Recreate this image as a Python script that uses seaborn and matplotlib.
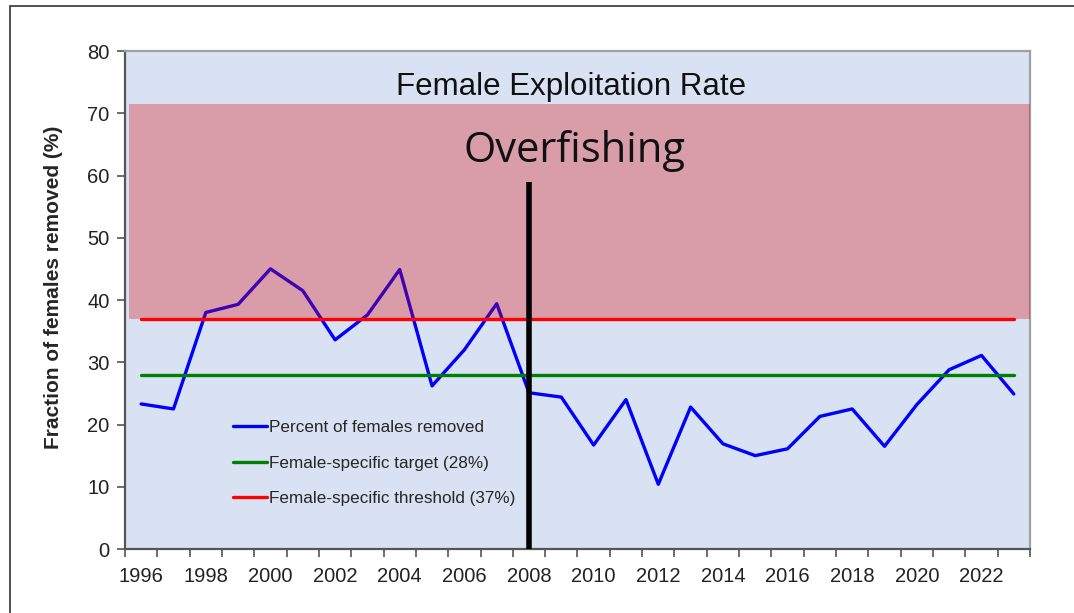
import numpy as np
import matplotlib.pyplot as plt
import seaborn as sns
import pandas as pd
from matplotlib.patches import Rectangle

years = list(range(1996, 2024))
pct_removed = [23.3, 22.5, 38.0, 39.3, 45.0, 41.5, 33.6, 37.6, 44.9, 26.2,
               32.0, 39.4, 25.1, 24.4, 16.7, 24.0, 10.4, 22.8, 16.9, 15.0,
               16.1, 21.3, 22.5, 16.5, 23.2, 28.8, 31.1, 24.9]
target = 28
threshold = 37
overfishing_top = 71.5
closure_year = 2008
closure_top = 59

sns.set_style("white")
plt.rcParams['font.family'] = ['Liberation Sans', 'DejaVu Sans']

df = pd.DataFrame({"year": years, "pct": pct_removed})

fig = plt.figure(figsize=(10.74, 6.13), dpi=100)
ax = fig.add_axes([0.1164, 0.1044, 0.8426, 0.8124])
ax.set_facecolor("#D9E2F3")

# outer frame (only top/left edges visible in the original)
fig.patches.append(Rectangle((10 / 1074, -0.1), 1.2, 1 - 6 / 613 + 0.1,
                             transform=fig.transFigure, fill=False,
                             edgecolor="#333333", linewidth=1.2))

sns.lineplot(data=df, x="year", y="pct", color="#0000FF", linewidth=2.4,
             ax=ax, zorder=2, label="Percent of females removed")

# overfishing zone drawn semi-transparent over the series
ax.axhspan(threshold, overfishing_top, xmin=0.004, xmax=1, color="#D90000",
           alpha=0.3, linewidth=0, zorder=3)

ax.plot(years, [target] * len(years), color="#008000", linewidth=2.4,
        zorder=4, label="Female-specific target (28%)")
ax.plot(years, [threshold] * len(years), color="#FF0000", linewidth=2.4,
        zorder=4, label="Female-specific threshold (37%)")

ax.vlines(closure_year, 0, closure_top, color="black", linewidth=4, zorder=5)

ax.set_xlim(years[0] - 0.5, years[-1] + 0.5)
ax.set_ylim(0, 80)
ax.set_yticks(range(0, 81, 10))
ax.set_xticks(years[::2])
ax.set_xticklabels([str(y) for y in years[::2]])
ax.set_xticks(np.arange(years[0] - 0.5, years[-1] + 1.0, 1.0), minor=True)
ax.tick_params(axis="x", which="major", length=0, labelsize=14.5, pad=13,
               colors="#222222")
ax.tick_params(axis="x", which="minor", length=6, width=1.2, color="#555555",
               direction="out", bottom=True)
ax.tick_params(axis="y", length=6, width=1.2, color="#555555", labelsize=14.5,
               colors="#222222", left=True, pad=5)
for lbl in ax.get_yticklabels():
    lbl.set_color("#222222")

ax.set_xlabel("")
ax.set_ylabel("Fraction of females removed (%)", fontsize=15,
              fontweight="bold")
ax.yaxis.set_label_coords(-0.068, 0.525)

for side in ["left", "bottom"]:
    ax.spines[side].set_color("#555555")
    ax.spines[side].set_linewidth(1.6)
for side in ["top", "right"]:
    ax.spines[side].set_color("#A0A0A0")
    ax.spines[side].set_linewidth(1.6)

ax.text(0.493, 74.2, "Female Exploitation Rate", transform=ax.get_yaxis_transform(),
        ha="center", va="center", fontsize=22.5, color="#111111", zorder=6)
ax.text(0.497, 64.0, "Overfishing", transform=ax.get_yaxis_transform(),
        ha="center", va="center", fontsize=30, family=["Open Sans", "DejaVu Sans"],
        fontweight="normal", color="#111111", zorder=6)

ax.legend(loc="upper left", bbox_to_anchor=(0.119, 0.259), frameon=False,
          fontsize=12.3, handlelength=2.0, handletextpad=0.15, labelspacing=1.2,
          borderpad=0, borderaxespad=0)

fig.savefig("out.png", dpi=100)
